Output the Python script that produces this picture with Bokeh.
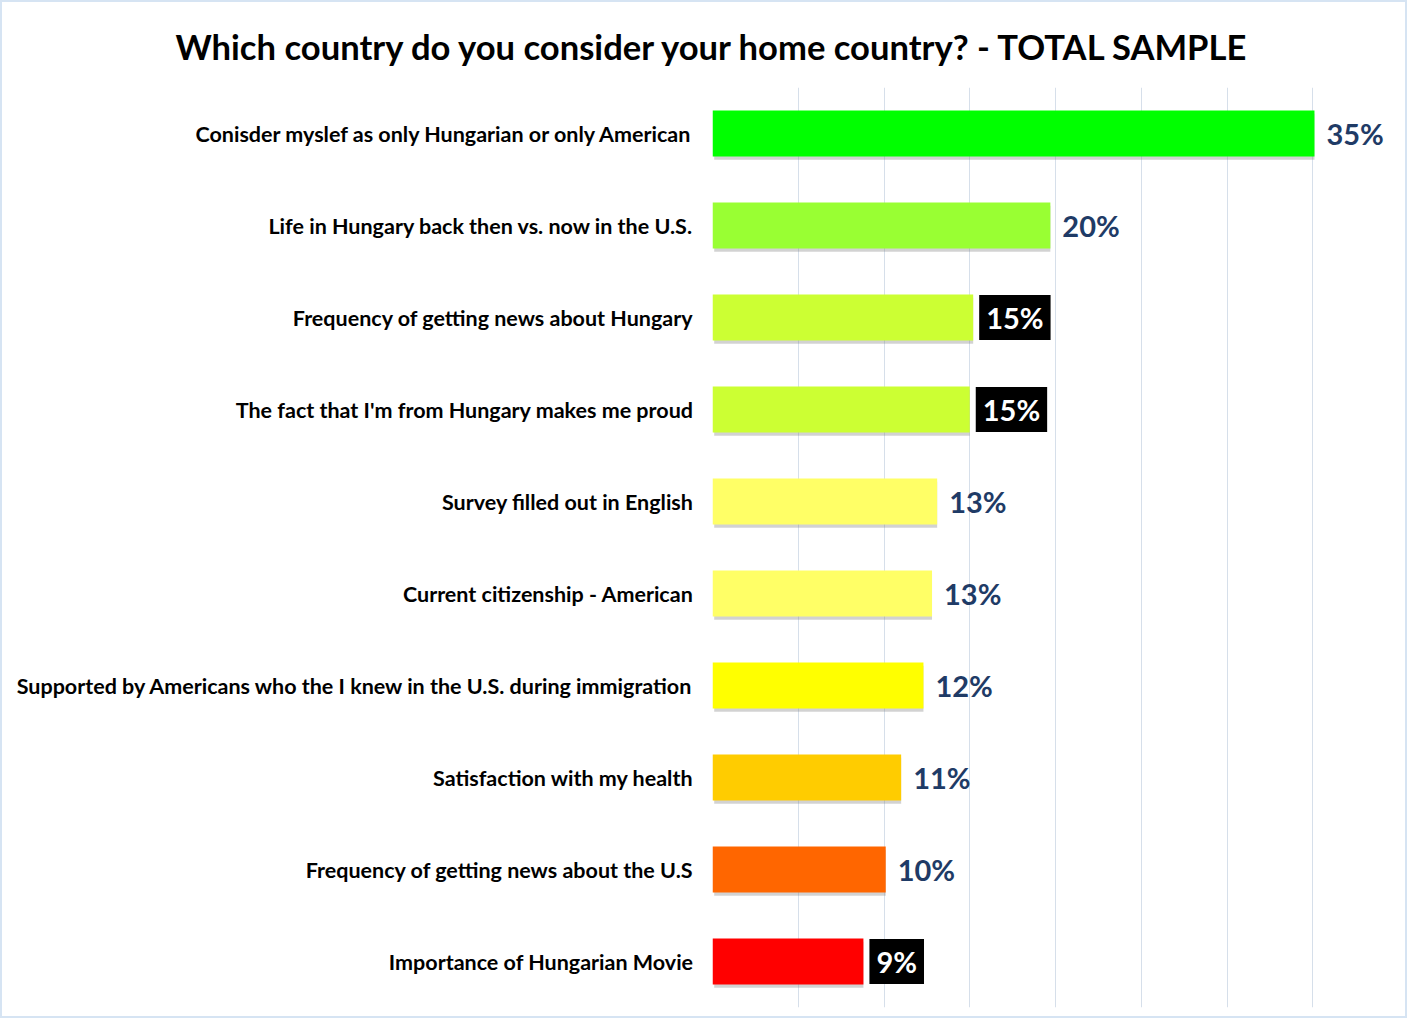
from bokeh.plotting import figure
from bokeh.models import ColumnDataSource, FactorRange, SingleIntervalTicker, Title
from bokeh.transform import dodge
from bokeh.core.properties import value
from bokeh.embed import file_html
from bokeh.resources import INLINE

title_text = "Which country do you consider your home  country? - TOTAL SAMPLE"
categories = [
    "Conisder myslef as only Hungarian or only American",
    "Life in Hungary back then vs. now in the U.S.",
    "Frequency of getting news about Hungary",
    "The fact that I'm from Hungary makes me proud",
    "Survey filled out in English",
    "Current citizenship - American",
    "Supported by Americans who the I knew in the U.S. during immigration",
    "Satisfaction with my health",
    "Frequency of getting news about the U.S",
    "Importance of Hungarian Movie",
]
values = [35.1, 19.7, 15.2, 15.0, 13.1, 12.8, 12.3, 11.0, 10.1, 8.8]
labels = ["35%", "20%", "15%", "15%", "13%", "13%", "12%", "11%", "10%", "9%"]
colors = ["#00FF00", "#99FF33", "#CCFF33", "#CCFF33", "#FFFF66",
          "#FFFF66", "#FFFF00", "#FFCC00", "#FF6600", "#FF0000"]
boxed = [False, False, True, True, False, False, False, False, False, True]

plain_idx = [i for i, b in enumerate(boxed) if not b]
box_idx = [i for i, b in enumerate(boxed) if b]

src = ColumnDataSource(dict(cat=categories, val=values, lab=labels, col=colors))
src_plain = ColumnDataSource(dict(cat=[categories[i] for i in plain_idx],
                                  val=[values[i] for i in plain_idx],
                                  lab=[labels[i] for i in plain_idx]))
src_box = ColumnDataSource(dict(cat=[categories[i] for i in box_idx],
                                val=[values[i] for i in box_idx],
                                lab=[labels[i] for i in box_idx]))

W, H = 1407, 1018
LEFT, RIGHT, TOP, BOTTOM = 710, 11, 85, 13

p = figure(width=W, height=H, output_backend="svg", toolbar_location=None,
           y_range=FactorRange(factors=categories[::-1], range_padding=0),
           x_range=(0, 40))
p.min_border_left = LEFT
p.min_border_right = RIGHT
p.min_border_top = TOP
p.min_border_bottom = BOTTOM
p.outline_line_color = None
p.background_fill_color = "white"
p.border_fill_color = "white"

p.title = Title(text=title_text, align="left", offset=173 - LEFT, standoff=37,
                vertical_align="top",
                text_font="Lato", text_font_style="bold", text_font_size="34.6px",
                text_color="black")

# shadow
p.hbar(y=dodge("cat", -0.035, range=p.y_range), left=0.1, right="val", height=0.5,
       source=src, fill_color="#7F7F7F", fill_alpha=0.35, line_color=None)
p.hbar(y="cat", left=0, right="val", height=0.5, source=src,
       fill_color="col", line_color=None)

p.text(x="val", y="cat", text="lab", source=src_plain, x_offset=12,
       text_align="left", text_baseline="middle", text_font=value("Lato"),
       text_font_style="bold", text_font_size="29px", text_color="#1F3B66")
p.text(x="val", y="cat", text="lab", source=src_box, x_offset=6,
       text_align="left", text_baseline="middle", text_font=value("Lato"),
       text_font_style="bold", text_font_size="29px", text_color="white",
       background_fill_color="black",
       padding=dict(left=7, right=7, top=5, bottom=5))

p.xaxis.visible = False
p.xgrid.ticker = SingleIntervalTicker(interval=5)
p.xgrid.grid_line_color = "#D6DFEA"
p.xgrid.grid_line_width = 1
p.ygrid.grid_line_color = None

ax = p.yaxis[0]
ax.axis_line_color = None
ax.major_tick_line_color = None
ax.minor_tick_line_color = None
ax.major_label_standoff = 13
ax.major_label_text_font = "Lato"
ax.major_label_text_font_style = "bold"
ax.major_label_text_font_size = "21.5px"
ax.major_label_text_color = "black"

p.styles = {"border": "2px solid #D6E4F3", "box-sizing": "border-box"}

open("out.html", "w").write(file_html(p, INLINE))
